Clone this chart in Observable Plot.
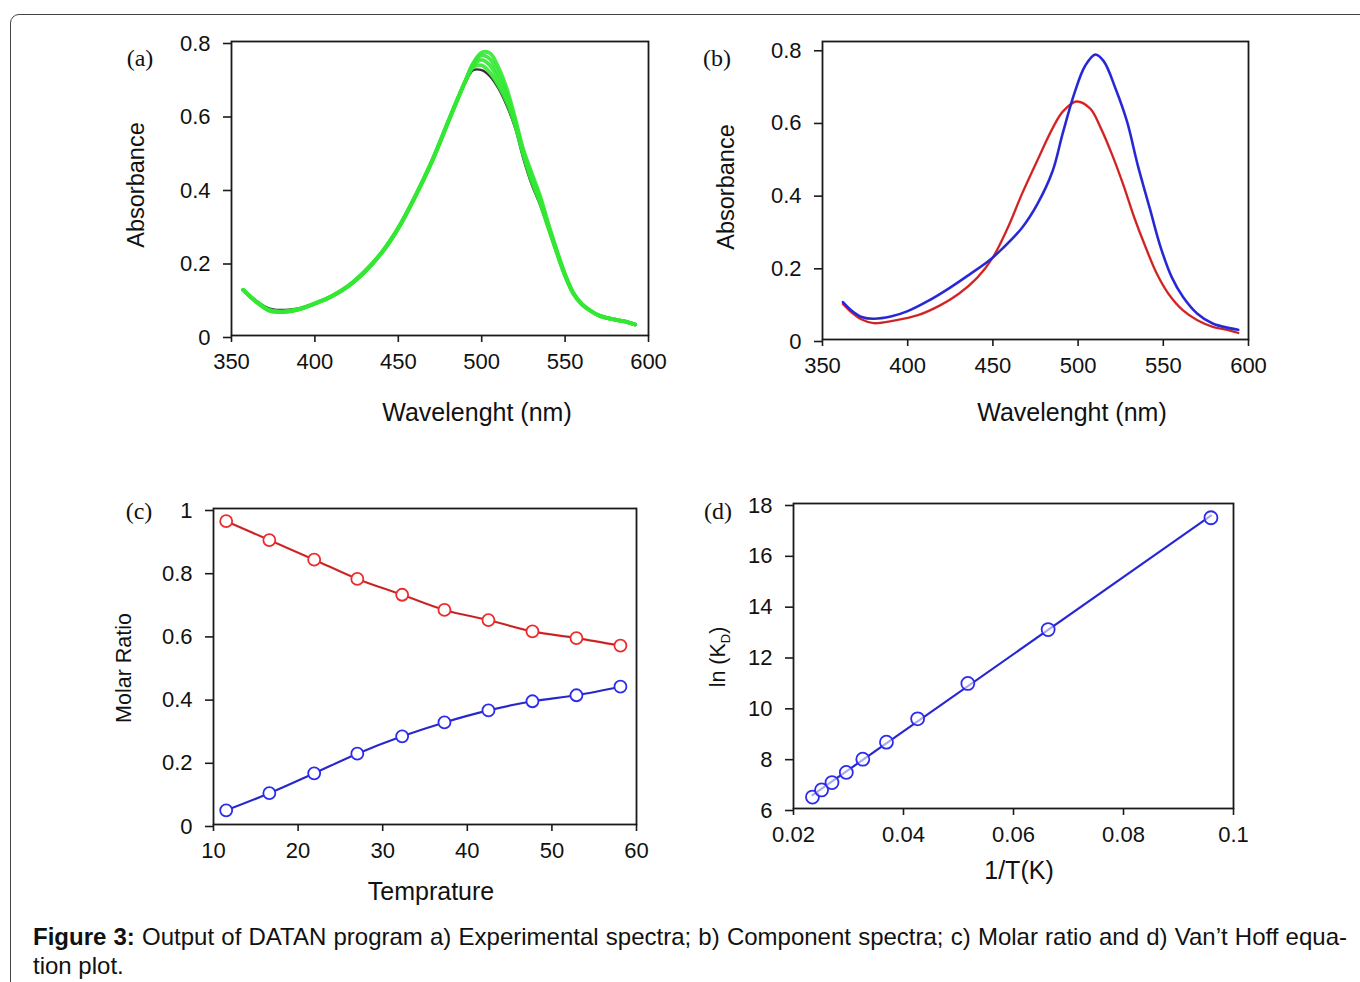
<!DOCTYPE html>
<html>
<head>
<meta charset="utf-8">
<script src="https://cdn.jsdelivr.net/npm/d3@7"></script>
<script src="https://cdn.jsdelivr.net/npm/@observablehq/plot@0.6"></script>
<style>
  html, body { margin: 0; padding: 0; background: #fff; }
  #root { position: relative; width: 1360px; height: 982px; overflow: hidden; background: #fff;
          font-family: 'Liberation Sans', Arial, Helvetica, sans-serif; color: #111; }
  .border { position: absolute; left: 10px; top: 14px; width: 1420px; height: 1020px;
            border: 1.3px solid #444; border-radius: 9px; box-sizing: border-box; }
  .panel { position: absolute; }
  .t { position: absolute; white-space: nowrap; line-height: 1; transform: translate(-50%, -50%); }
  .ty { position: absolute; white-space: nowrap; line-height: 1; transform: translate(-50%, -50%) rotate(-90deg); }
  .letter { position: absolute; font-family: 'Liberation Serif', 'Times New Roman', serif; font-size: 24px;
            line-height: 1; transform: translate(-50%, -50%); }
  .cap { position: absolute; left: 33px; line-height: 1; white-space: nowrap; }
  .cap1 { width: 1314px; text-align: justify; text-align-last: justify; white-space: normal; }
  sub { font-size: 0.6em; vertical-align: -0.35em; line-height: 0; }
</style>
</head>
<body>
<div id="root">
  <div class="border"></div>
</div>
<script>
// ---------------- DATA ----------------
// (a) experimental spectra
const expWavelength = [357,362,367,372,377,382,390,400,410,420,430,440,450,460,470,480,485,490,495,500,505,510,515,520,525,530,535,540,545,550,555,560,565,570,575,580,585,592];
const expAbsDark   = [0.125,0.105,0.088,0.075,0.070,0.070,0.074,0.088,0.106,0.133,0.172,0.222,0.290,0.375,0.470,0.580,0.635,0.685,0.722,0.722,0.705,0.672,0.625,0.565,0.480,0.410,0.355,0.290,0.222,0.160,0.112,0.085,0.068,0.056,0.048,0.044,0.040,0.031];
const expAbsGreen1 = [0.124,0.103,0.085,0.071,0.066,0.066,0.072,0.087,0.106,0.134,0.173,0.224,0.291,0.376,0.471,0.581,0.636,0.690,0.730,0.735,0.715,0.680,0.635,0.572,0.490,0.418,0.360,0.292,0.225,0.162,0.113,0.085,0.068,0.055,0.048,0.043,0.039,0.030];
const expAbsGreen2 = [0.124,0.103,0.085,0.070,0.065,0.065,0.071,0.087,0.106,0.134,0.174,0.225,0.292,0.377,0.472,0.582,0.637,0.690,0.735,0.750,0.735,0.695,0.648,0.578,0.495,0.428,0.367,0.296,0.228,0.163,0.114,0.085,0.068,0.055,0.048,0.043,0.039,0.030];
const expAbsGreen3 = [0.124,0.103,0.084,0.069,0.064,0.064,0.071,0.087,0.107,0.135,0.175,0.226,0.293,0.378,0.473,0.583,0.638,0.690,0.740,0.762,0.752,0.712,0.660,0.585,0.500,0.435,0.374,0.300,0.230,0.165,0.115,0.086,0.068,0.055,0.048,0.043,0.039,0.030];
const expAbsGreen4 = [0.124,0.102,0.084,0.069,0.064,0.064,0.070,0.087,0.107,0.135,0.175,0.226,0.293,0.378,0.474,0.584,0.639,0.690,0.742,0.770,0.768,0.730,0.672,0.592,0.505,0.442,0.380,0.303,0.232,0.167,0.116,0.086,0.068,0.055,0.048,0.043,0.039,0.030];

// (b) component spectra
const blueWavelength = [362,367,373,380,390,400,412,424,436,448,456,467,476,485,491,498,504,510,515,522,528.7,535,542,548.5,555,561.6,570,579,588,594];
const blueAbs        = [0.103,0.080,0.062,0.057,0.063,0.078,0.106,0.140,0.178,0.218,0.252,0.307,0.372,0.463,0.568,0.680,0.752,0.784,0.766,0.690,0.600,0.480,0.362,0.253,0.171,0.117,0.071,0.044,0.032,0.027];
const redWavelength  = [362,367,373,380,392,406,419,430,441,450,458.6,467,476,485,491,499,507,513.4,520,526.5,533,539.7,546.3,553,561.6,570,579,588,594];
const redAbs         = [0.098,0.075,0.055,0.045,0.052,0.067,0.094,0.126,0.171,0.226,0.306,0.400,0.492,0.581,0.627,0.655,0.636,0.581,0.508,0.426,0.335,0.253,0.180,0.126,0.080,0.053,0.035,0.026,0.018];

// (c) molar ratio
const temperature = [11.5,16.6,21.9,27.0,32.3,37.3,42.5,47.7,52.9,58.1];
const ratioRed    = [0.960,0.900,0.838,0.777,0.727,0.679,0.647,0.611,0.590,0.566];
const ratioBlue   = [0.045,0.099,0.162,0.224,0.279,0.323,0.361,0.390,0.409,0.436];

// (d) Van't Hoff
const invT = [0.02345,0.0251,0.0270,0.0296,0.0326,0.0369,0.04257,0.0517,0.0663,0.0959];
const lnKD = [6.45,6.73,7.02,7.42,7.94,8.61,9.53,10.92,13.04,17.44];

// tick values
const ticksWavelength = [350,400,450,500,550,600];
const ticksAbs = [0,0.2,0.4,0.6,0.8];
const ticksTemp = [10,20,30,40,50,60];
const ticksRatio = [0,0.2,0.4,0.6,0.8,1];
const ticksInvT = [0.02,0.04,0.06,0.08,0.1];
const ticksLnK = [6,8,10,12,14,16,18];

// ---------------- TABLES ----------------
const expSeries = [["dark", expAbsDark],["g1", expAbsGreen1],["g2", expAbsGreen2],["g3", expAbsGreen3],["g4", expAbsGreen4]];
const expTable = expSeries.flatMap(([name, arr]) => expWavelength.map((w, i) => ({w, a: arr[i], s: name})));
const darkTable = expTable.filter(d => d.s === "dark");
const greenTable = expTable.filter(d => d.s !== "dark");
const blueTable = blueWavelength.map((w, i) => ({w, a: blueAbs[i]}));
const redTable = redWavelength.map((w, i) => ({w, a: redAbs[i]}));
const ratioTable = temperature.flatMap((t, i) => [{t, r: ratioRed[i], s: "red"}, {t, r: ratioBlue[i], s: "blue"}]);
const vhTable = invT.map((x, i) => ({x, y: lnKD[i]}));

// ---------------- DRAW ----------------
const root = document.getElementById("root");
const FONT = "'Liberation Sans', Arial, Helvetica, sans-serif";
const AX = "#1a1a1a";
const RED = "#ec2b2b", BLUE = "#2b2bee";
const fmt = d => String(d);

function axes(xt, yt) {
  return [
    Plot.frame({stroke: AX, strokeWidth: 1.8}),
    Plot.axisX(xt, {anchor: "bottom", tickSize: 7, tickPadding: 11, label: null, tickFormat: fmt, stroke: AX, strokeWidth: 1.6, fill: "#111", fontSize: 22}),
    Plot.axisY(yt, {anchor: "left", tickSize: 8, tickPadding: 13, label: null, tickFormat: fmt, stroke: AX, strokeWidth: 1.6, fill: "#111", fontSize: 22, dy: 2})
  ];
}

function panel(cfg) {
  const p = Plot.plot({
    width: cfg.width, height: cfg.height,
    marginLeft: cfg.mL, marginRight: cfg.mR, marginTop: cfg.mT, marginBottom: cfg.mB,
    x: {domain: cfg.xd},
    y: {domain: cfg.yd},
    style: {fontFamily: FONT, fontSize: "22px", color: "#111", background: "transparent", overflow: "visible"},
    marks: [...cfg.marks, ...axes(cfg.xt, cfg.yt)]
  });
  const div = document.createElement("div");
  div.className = "panel";
  div.style.left = cfg.left + "px";
  div.style.top = cfg.top + "px";
  div.appendChild(p);
  root.appendChild(div);
}

// (a)
panel({
  left: 150, top: 20, width: 518, height: 375, mL: 81, mR: 20, mT: 21, mB: 60,
  xd: [350, 600], yd: [0, 0.8], xt: ticksWavelength, yt: ticksAbs,
  marks: [
    Plot.line(darkTable, {x: "w", y: "a", stroke: "#3a2a3a", strokeWidth: 2.2, curve: "catmull-rom"}),
    Plot.line(greenTable, {x: "w", y: "a", z: "s", stroke: "#33e833", strokeWidth: 3.8, strokeOpacity: 0.9, curve: "catmull-rom"})
  ]
});

// (b)
panel({
  left: 740, top: 20, width: 528, height: 379, mL: 82, mR: 20, mT: 21, mB: 60,
  xd: [350, 600], yd: [0, 0.82], xt: ticksWavelength, yt: ticksAbs,
  marks: [
    Plot.line(redTable, {x: "w", y: "a", stroke: RED, strokeWidth: 2.4, curve: "catmull-rom"}),
    Plot.line(blueTable, {x: "w", y: "a", stroke: BLUE, strokeWidth: 2.6, curve: "catmull-rom"}),
    Plot.line(redTable, {x: "w", y: "a", stroke: "#222", strokeWidth: 0.7, strokeOpacity: 0.45, curve: "catmull-rom"}),
    Plot.line(blueTable, {x: "w", y: "a", stroke: "#222", strokeWidth: 0.7, strokeOpacity: 0.45, curve: "catmull-rom"})
  ]
});

// (c)
panel({
  left: 130, top: 490, width: 531, height: 394, mL: 83, mR: 25, mT: 18, mB: 60,
  xd: [10, 60], yd: [0, 1], xt: ticksTemp, yt: ticksRatio,
  marks: [
    Plot.line(ratioTable, {x: "t", y: "r", z: "s", stroke: d => d.s === "red" ? RED : BLUE, strokeWidth: 2.2, curve: "monotone-x"}),
    Plot.line(ratioTable, {x: "t", y: "r", z: "s", stroke: "#222", strokeWidth: 0.7, strokeOpacity: 0.5, curve: "monotone-x"}),
    Plot.dot(ratioTable, {x: "t", y: "r", r: 6, fill: "white", stroke: d => d.s === "red" ? RED : BLUE, strokeWidth: 1.8})
  ]
});

// (d)
panel({
  left: 710, top: 485, width: 553, height: 383, mL: 83, mR: 30, mT: 18, mB: 60,
  xd: [0.02, 0.1], yd: [6, 18], xt: ticksInvT, yt: ticksLnK,
  marks: [
    Plot.linearRegressionY(vhTable, {x: "x", y: "y", stroke: BLUE, strokeWidth: 2.2, ci: 0}),
    Plot.linearRegressionY(vhTable, {x: "x", y: "y", stroke: "#222", strokeWidth: 0.7, strokeOpacity: 0.45, ci: 0}),
    Plot.dot(vhTable, {x: "x", y: "y", r: 6.5, fill: "white", fillOpacity: 0.6, stroke: BLUE, strokeWidth: 1.8})
  ]
});

// ---------------- TEXT ----------------
function addText(cls, html, x, y, size) {
  const d = document.createElement("div");
  d.className = cls;
  d.innerHTML = html;
  d.style.left = x + "px";
  d.style.top = y + "px";
  if (size) d.style.fontSize = size + "px";
  root.appendChild(d);
}
addText("letter", "(a)", 140, 58);
addText("letter", "(b)", 717, 58);
addText("letter", "(c)", 139, 511);
addText("letter", "(d)", 718, 511);

addText("t", "Wavelenght (nm)", 477, 412, 25);
addText("t", "Wavelenght (nm)", 1072, 412, 25);
addText("t", "Temprature", 431, 891, 25);
addText("t", "1/T(K)", 1019, 870, 25);

addText("ty", "Absorbance", 137, 185, 23.5);
addText("ty", "Absorbance", 727, 187, 23.5);
addText("ty", "Molar Ratio", 125, 668, 21.5);
addText("ty", "ln (K<sub>D</sub>)", 719, 657, 21.5);

// caption: pick a size so the first line fits its 1314px measure
const capBold = "Figure 3:";
const capRest = " Output of DATAN program a) Experimental spectra; b) Component spectra; c) Molar ratio and d) Van’t Hoff equa-";
const ctx = document.createElement("canvas").getContext("2d");
ctx.font = "bold 100px 'Liberation Sans'";
let wNat = ctx.measureText(capBold).width;
ctx.font = "100px 'Liberation Sans'";
wNat += ctx.measureText(capRest).width;
const capSize = Math.min(24, 0.995 * 1314 / wNat * 100);
const base = 0.8465 * capSize;

const c1 = document.createElement("div");
c1.className = "cap cap1";
c1.style.fontSize = capSize + "px";
c1.style.top = (945.5 - base) + "px";
c1.innerHTML = "<b>" + capBold + "</b>" + capRest;
root.appendChild(c1);
const c2 = document.createElement("div");
c2.className = "cap";
c2.style.fontSize = capSize + "px";
c2.style.top = (974 - base) + "px";
c2.textContent = "tion plot.";
root.appendChild(c2);
</script>
</body>
</html>
